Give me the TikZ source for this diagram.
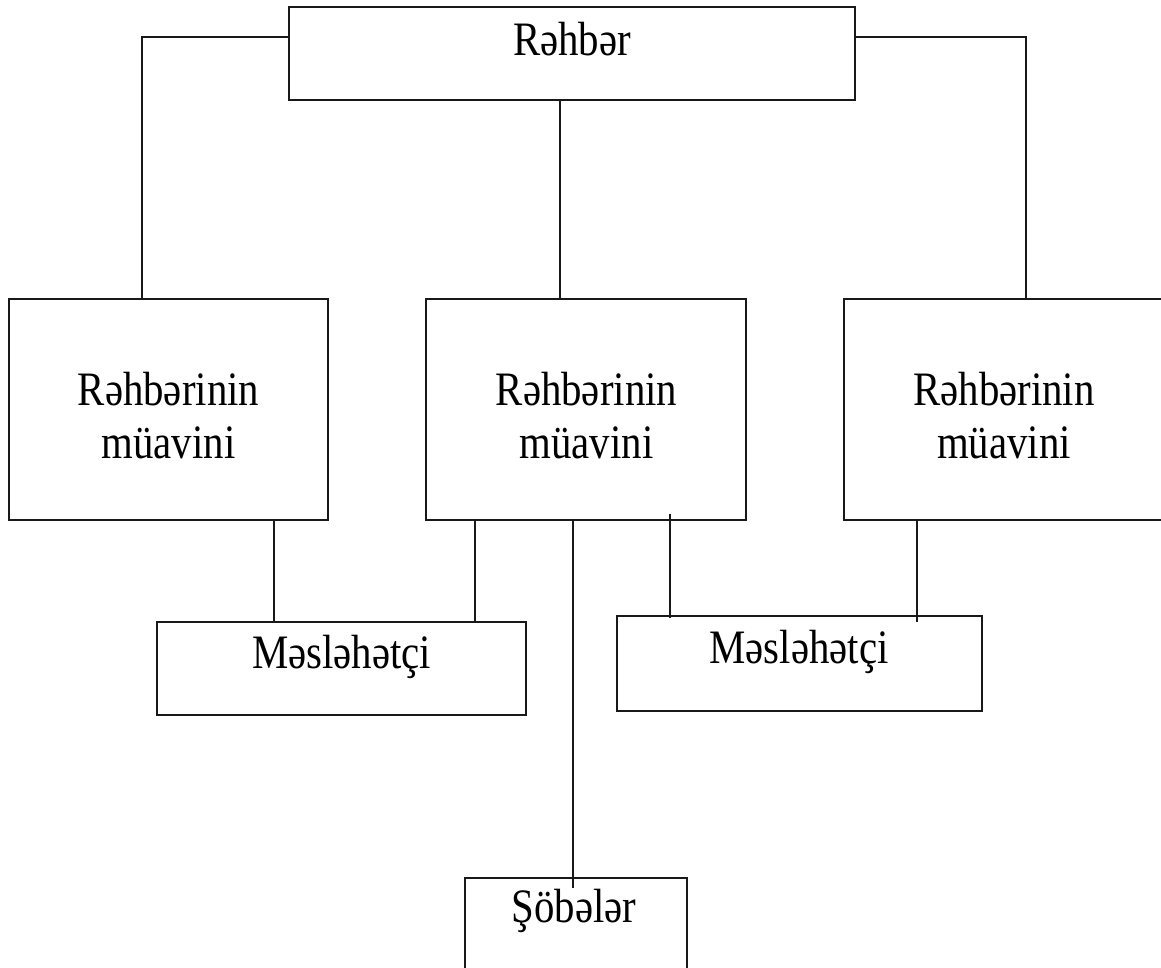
\documentclass[tikz,border=0pt]{standalone}
\usepackage{fontspec}
\setmainfont{Liberation Serif}[FakeStretch=0.85]
\usetikzlibrary{calc}

\begin{document}
\begin{tikzpicture}[x=0.75pt,y=-0.75pt,
  box/.style={draw=black!90, line width=1.4pt, rectangle, inner sep=0pt},
  conn/.style={draw=black!90, line width=1.4pt},
  lbl/.style={inner sep=0pt, align=center, font=\fontsize{36}{40.5}\selectfont}]
\useasboundingbox (0,0) rectangle (1161,968);

% boxes
\node[box, minimum width=566*0.75pt, minimum height=93*0.75pt]  (top) at (572,53.5) {};
\node[box, minimum width=319*0.75pt, minimum height=221*0.75pt] (b1)  at (168.5,409.5) {};
\node[box, minimum width=320*0.75pt, minimum height=221*0.75pt] (b2)  at (586,409.5) {};
\node[box, minimum width=340*0.75pt, minimum height=221*0.75pt] (b3)  at (1014,409.5) {};
\node[box, minimum width=369*0.75pt, minimum height=93*0.75pt]  (m1)  at (341.5,668.5) {};
\node[box, minimum width=365*0.75pt, minimum height=95*0.75pt]  (m2)  at (799.5,663.5) {};
\node[box, minimum width=222*0.75pt, minimum height=112*0.75pt] (s)   at (576,934) {};

% texts
\node[lbl, anchor=base] (tTop) at (572,55) {Rəhbər};
\node[lbl, anchor=base] (t1) at (168.5,405) {Rəhbərinin};
\node[lbl, anchor=base] (t1b) at (168.5,458) {müavini};
\node[lbl, anchor=base] (t2) at (586.5,405) {Rəhbərinin};
\node[lbl, anchor=base] (t2b) at (586.5,458) {müavini};
\node[lbl, anchor=base] (t3) at (1004,405) {Rəhbərinin};
\node[lbl, anchor=base] (t3b) at (1004,458) {müavini};
\node[lbl, anchor=base] (tm1) at (341.5,668) {Məsləhətçi};
\node[lbl, anchor=base] (tm2) at (799,663) {Məsləhətçi};
\node[lbl, anchor=base] (ts) at (574,922) {Şöbələr};

% junction points of the connectors
\coordinate (jL) at (142,37);
\coordinate (jR) at (1026,37);
\coordinate (jC) at (560,0);
\coordinate (kA) at (274,0);
\coordinate (kB) at (475,0);
\coordinate (kC) at (573,0);
\coordinate (kD) at (670,0);
\coordinate (kE) at (917,0);

% connectors
\draw[conn] (top.west |- jL) -| (jL |- b1.north);
\draw[conn] (top.east |- jR) -| (jR |- b3.north);
\draw[conn] (jC |- top.south) -- (jC |- b2.north);
\draw[conn] (kA |- b1.south) -- (kA |- m1.north);
\draw[conn] (kB |- b2.south) -- (kB |- m1.north);
\draw[conn] (kC |- b2.south) -- ($(kC |- s.north)+(0,11)$);
\draw[conn] ($(kD |- b2.south)+(0,-7)$) -- ($(kD |- m2.north)+(0,3)$);
\draw[conn] (kE |- b3.south) -- ($(kE |- m2.north)+(0,7)$);
\end{tikzpicture}
\end{document}
